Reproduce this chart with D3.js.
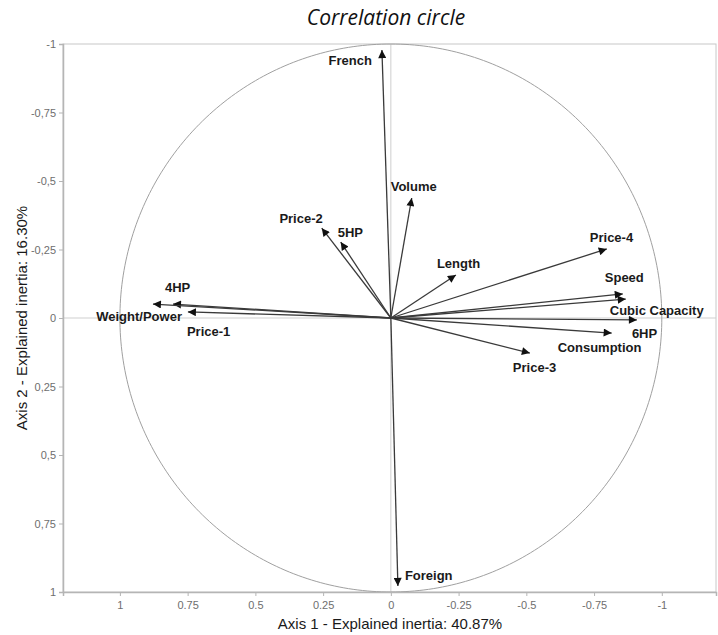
<!DOCTYPE html>
<html>
<head>
<meta charset="utf-8">
<script src="https://cdn.jsdelivr.net/npm/d3@7"></script>
<style>
  html, body { margin: 0; padding: 0; background: #fff; }
  svg { display: block; }
</style>
</head>
<body>
<svg id="chart" width="718" height="635"></svg>
<script>
// ---- data ----
const variables = ["French", "Volume", "Price-2", "5HP", "Length", "Price-4", "Speed",
  "Cubic Capacity", "6HP", "Consumption", "Price-3", "Foreign", "4HP", "Weight/Power", "Price-1"];
const axis1 = [0.033, -0.077, 0.255, 0.185, -0.24, -0.797, -0.856,
  -0.867, -0.908, -0.815, -0.513, -0.026, 0.804, 0.878, 0.749];
const axis2 = [-0.978, -0.438, -0.328, -0.277, -0.157, -0.252, -0.088,
  -0.069, 0.007, 0.055, 0.128, 0.978, -0.051, -0.051, -0.022];
const xTickValues = [1, 0.75, 0.5, 0.25, 0, -0.25, -0.5, -0.75, -1];
const yTickValues = [-1, -0.75, -0.5, -0.25, 0, 0.25, 0.5, 0.75, 1];
const titleText = "Correlation circle";
const xTitle = "Axis 1 - Explained inertia: 40.87%";
const yTitle = "Axis 2 - Explained inertia: 16.30%";

// ---- label placement (pixel offsets from arrow tips) ----
const labelPlace = {
  "French": {dx: -10, dy: 10, anchor: "end"},
  "Volume": {dx: -21, dy: -12, anchor: "start"},
  "Price-2": {dx: 1, dy: -10, anchor: "end"},
  "5HP": {dx: -3, dy: -10, anchor: "start"},
  "Length": {dx: -19, dy: -12, anchor: "start"},
  "Price-4": {dx: -17, dy: -12, anchor: "start"},
  "Speed": {dx: -18, dy: -16, anchor: "start"},
  "Cubic Capacity": {dx: -16, dy: 11, anchor: "start"},
  "6HP": {dx: -5, dy: 14, anchor: "start"},
  "Consumption": {dx: -54, dy: 14, anchor: "start"},
  "Price-3": {dx: -17, dy: 14, anchor: "start"},
  "Foreign": {dx: 7, dy: -11, anchor: "start"},
  "4HP": {dx: -8, dy: -17, anchor: "start"},
  "Weight/Power": {dx: 29, dy: 12, anchor: "end"},
  "Price-1": {dx: -1, dy: 19, anchor: "start"}
};

const svg = d3.select("#chart");
const plotL = 63, plotR = 716, plotT = 44, plotB = 592;

const x = d3.scaleLinear().domain([1.21, -1.2]).range([plotL, plotR]);
const y = d3.scaleLinear().domain([-1, 1]).range([plotT, plotB]);

const axisColor = "#b5b5b5";

// frame
svg.append("rect")
  .attr("x", plotL).attr("y", plotT)
  .attr("width", plotR - plotL).attr("height", plotB - plotT)
  .attr("fill", "none").attr("stroke", "#c8c8c8").attr("stroke-width", 1);

// zero gridlines
svg.append("line")
  .attr("x1", x(0)).attr("x2", x(0)).attr("y1", plotT).attr("y2", plotB)
  .attr("stroke", "#cfcfcf").attr("stroke-width", 1);
svg.append("line")
  .attr("x1", plotL).attr("x2", plotR).attr("y1", y(0)).attr("y2", y(0))
  .attr("stroke", "#cfcfcf").attr("stroke-width", 1);

// circle
const angles = d3.range(0, 361, 1).map(d => d * Math.PI / 180);
svg.append("path")
  .attr("d", d3.line().x(a => x(Math.cos(a))).y(a => y(Math.sin(a)))(angles))
  .attr("fill", "none").attr("stroke", "#a0a0a0").attr("stroke-width", 1);

// axes
const xAxis = d3.axisBottom(x).tickValues(xTickValues).tickSize(4)
  .tickFormat(v => String(v));
const yAxis = d3.axisLeft(y).tickValues(yTickValues).tickSize(4)
  .tickFormat(v => String(v).replace(".", ","));

const gx = svg.append("g").attr("transform", `translate(0,${plotB})`).call(xAxis);
const gy = svg.append("g").attr("transform", `translate(${plotL},0)`).call(yAxis);
[gx, gy].forEach(g => {
  g.select(".domain").attr("stroke", axisColor).attr("stroke-width", 1.5);
  g.selectAll(".tick line").attr("stroke", axisColor);
  g.selectAll(".tick text")
    .attr("fill", "#6e6e6e")
    .style("font-family", "'Liberation Sans', Arial, sans-serif")
    .style("font-size", "11px");
});
gx.selectAll(".tick text").attr("dy", "0.9em");

// arrow marker
svg.append("defs").append("marker")
  .attr("id", "arrow")
  .attr("viewBox", "0 0 10 10")
  .attr("refX", 10).attr("refY", 5)
  .attr("markerWidth", 9).attr("markerHeight", 8)
  .attr("markerUnits", "userSpaceOnUse")
  .attr("orient", "auto")
  .append("path")
  .attr("d", "M0,0 L10,5 L0,10 Z")
  .attr("fill", "#111");

const data = variables.map((name, i) => ({name, a1: axis1[i], a2: axis2[i]}));

svg.append("g").selectAll("line")
  .data(data).join("line")
  .attr("x1", x(0)).attr("y1", y(0))
  .attr("x2", d => x(d.a1)).attr("y2", d => y(d.a2))
  .attr("stroke", "#3a3a3a").attr("stroke-width", 1.3)
  .attr("marker-end", "url(#arrow)");

svg.append("g").selectAll("text")
  .data(data).join("text")
  .attr("x", d => x(d.a1) + labelPlace[d.name].dx)
  .attr("y", d => y(d.a2) + labelPlace[d.name].dy)
  .attr("dy", "0.35em")
  .attr("text-anchor", d => labelPlace[d.name].anchor)
  .attr("fill", "#1a1a1a")
  .style("font-family", "'Liberation Sans', Arial, sans-serif")
  .style("font-size", "13px")
  .style("font-weight", "bold")
  .text(d => d.name);

// titles
svg.append("text")
  .attr("x", 386).attr("y", 25)
  .attr("text-anchor", "middle")
  .attr("fill", "#111")
  .style("font-family", "'Open Sans', sans-serif")
  .style("font-style", "italic")
  .style("font-size", "21px")
  .text(titleText);

svg.append("text")
  .attr("x", 390).attr("y", 629)
  .attr("text-anchor", "middle")
  .attr("fill", "#1a1a1a")
  .style("font-family", "'Liberation Sans', Arial, sans-serif")
  .style("font-size", "15px")
  .text(xTitle);

svg.append("text")
  .attr("transform", `translate(27,318) rotate(-90)`)
  .attr("text-anchor", "middle")
  .attr("fill", "#1a1a1a")
  .style("font-family", "'Liberation Sans', Arial, sans-serif")
  .style("font-size", "15px")
  .text(yTitle);
</script>
</body>
</html>
